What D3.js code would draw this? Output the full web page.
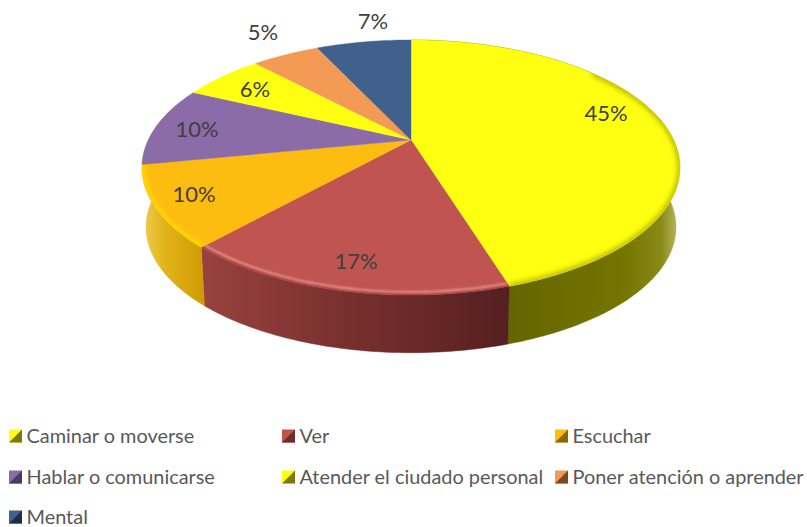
<!DOCTYPE html>
<html>
<head>
<meta charset="utf-8">
<script src="https://cdn.jsdelivr.net/npm/d3@7"></script>
<style>
  html, body { margin: 0; padding: 0; background: #fff; }
  text { font-family: Lato, "Open Sans", sans-serif; }
</style>
</head>
<body>
<div id="chart"></div>
<script>
const categories = ["Caminar o moverse", "Ver", "Escuchar", "Hablar o comunicarse",
    "Atender el ciudado personal", "Poner atención o aprender", "Mental"];
const percents = [45.2, 16.5, 10.2, 10.1, 6, 5, 7];
const topColors = ["#ffff12", "#bf5451", "#fdbc10", "#8b6ba8", "#ffff12", "#f39a55", "#3f618c"];
const iconDark = ["#7a7a00", "#6e2d2b", "#8a6a00", "#4c3a63", "#7a7a00", "#7c4a20", "#1c2f4a"];

const width = 807, height = 527;

// pie disc seen in perspective: apex is not the middle of the ellipse
const tilt = 0.2157, discA = 262.7, discB = 121.6;
const apexX = 411, apexY = 140, depth = 60, bottomShrink = 0.985;

function project(angle, r, low) {
    const X = r * Math.sin(angle), Y = r * Math.cos(angle);
    const k = 1 / (1 + tilt * Y);
    const s = low ? bottomShrink : 1;
    return [apexX + s * discA * X * k, apexY + (low ? depth : 0) - s * discB * Y * k];
}

function sampleAngles(a0, a1) {
    const n = Math.max(2, Math.ceil((a1 - a0) / 0.02));
    return d3.range(n + 1).map(i => a0 + (a1 - a0) * i / n);
}

const svg = d3.select("#chart").append("svg")
    .attr("width", width)
    .attr("height", height)
    .style("display", "block");

const defs = svg.append("defs");
function blurFilter(id, dev) {
    defs.append("filter").attr("id", id)
        .attr("x", "-20%").attr("y", "-20%").attr("width", "140%").attr("height", "140%")
        .append("feGaussianBlur").attr("stdDeviation", dev);
}
blurFilter("soft", 2.8);
blurFilter("thin", 1);

const slices = d3.pie().sort(null).value(d => d)(percents);
const line = d3.line();

// only the three front slices show a side wall
const walls = [
    { slice: 0, extend: 0, stops: [[0.37, "#656500"], [0.8, "#757500"], [0.93, "#8a8a18"], [1, "#bcbc68"]] },
    { slice: 1, extend: 0, stops: [[0, "#98423f"], [0.5, "#762f2d"], [1, "#552020"]] },
    { slice: 2, extend: 0.5, stops: [[0, "#f0cc50"], [0.35, "#e2b41c"], [1, "#cf9a00"]] }
];

walls.forEach(w => {
    const s = slices[w.slice];
    const gradId = "wall" + w.slice;
    const pts = sampleAngles(s.startAngle, s.endAngle + w.extend);
    const rimTop = pts.map(a => project(a, 1));
    const rimLow = pts.map(a => project(a, 1, true)).reverse();
    const xs = rimTop.concat(rimLow).map(p => p[0]);
    const grad = defs.append("linearGradient").attr("id", gradId)
        .attr("gradientUnits", "userSpaceOnUse")
        .attr("x1", d3.min(xs)).attr("x2", d3.max(xs)).attr("y1", 0).attr("y2", 0);
    w.stops.forEach(st => grad.append("stop").attr("offset", st[0]).attr("stop-color", st[1]));

    svg.append("path")
        .attr("d", line(rimTop.concat(rimLow)) + "Z")
        .attr("fill", `url(#${gradId})`)
        .attr("stroke", `url(#${gradId})`)
        .attr("stroke-width", 0.5);
});

// top of the pie
slices.forEach((s, i) => {
    const pts = sampleAngles(s.startAngle, s.endAngle).map(a => project(a, 1));
    const d = line([project(0, 0)].concat(pts)) + "Z";
    svg.append("path").attr("d", d).attr("fill", topColors[i]).attr("stroke", topColors[i]).attr("stroke-width", 0.4);
    defs.append("clipPath").attr("id", "clip" + i).append("path").attr("d", d);
});

// soft bevel along the front rim
const bevels = [
    { slice: 0, from: 0.9, color: "#b4b400", width: 5, blur: "soft", r: 1 },
    { slice: 1, from: 0, color: "#a83c3a", width: 4, blur: "thin", r: 1 },
    { slice: 1, from: 0, color: "#f2a8a4", width: 1.6, blur: "thin", r: 0.985 },
    { slice: 2, from: 0, color: "#ffd800", width: 7, blur: "soft", r: 1 }
];

bevels.forEach(b => {
    const s = slices[b.slice];
    const pts = sampleAngles(Math.max(s.startAngle, b.from), s.endAngle).map(a => project(a, b.r));
    svg.append("g").attr("clip-path", `url(#clip${b.slice})`)
        .append("path")
        .attr("d", line(pts))
        .attr("fill", "none")
        .attr("stroke", b.color)
        .attr("stroke-width", b.width)
        .attr("filter", `url(#${b.blur})`);
});

// data labels
const labelSpots = [[606, 112], [356, 260], [194, 193], [197, 128], [255, 88], [263, 31], [373, 20]];
svg.append("g").selectAll("text")
    .data(percents)
    .enter()
    .append("text")
    .attr("x", (d, i) => labelSpots[i][0])
    .attr("y", (d, i) => labelSpots[i][1])
    .attr("text-anchor", "middle")
    .attr("dominant-baseline", "central")
    .attr("fill", "#404040")
    .style("font-size", "22px")
    .text(d => Math.round(d) + "%");

// legend, 3 columns
const legendX = d3.scaleOrdinal().domain([0, 1, 2]).range([9, 282, 555]);
const legendY = d3.scaleOrdinal().domain([0, 1, 2]).range([435, 476, 516]);
const box = 13;

const legend = svg.append("g").selectAll("g")
    .data(categories)
    .enter()
    .append("g")
    .attr("transform", (d, i) => `translate(${legendX(i % 3)}, ${legendY(Math.floor(i / 3))})`);

legend.append("rect")
    .attr("x", 0).attr("y", -box / 2 + 1)
    .attr("width", box).attr("height", box)
    .attr("fill", (d, i) => topColors[i]);
legend.append("path")
    .attr("transform", "translate(0, 1)")
    .attr("d", `M${box},${-box / 2}L${box},${box / 2}L0,${box / 2}L${box / 2},0Z`)
    .attr("fill", (d, i) => iconDark[i]);
legend.append("text")
    .attr("x", 17.5)
    .attr("y", 0)
    .attr("dominant-baseline", "central")
    .attr("fill", "#595959")
    .style("font-size", "19.9px")
    .text(d => d);
</script>
</body>
</html>
